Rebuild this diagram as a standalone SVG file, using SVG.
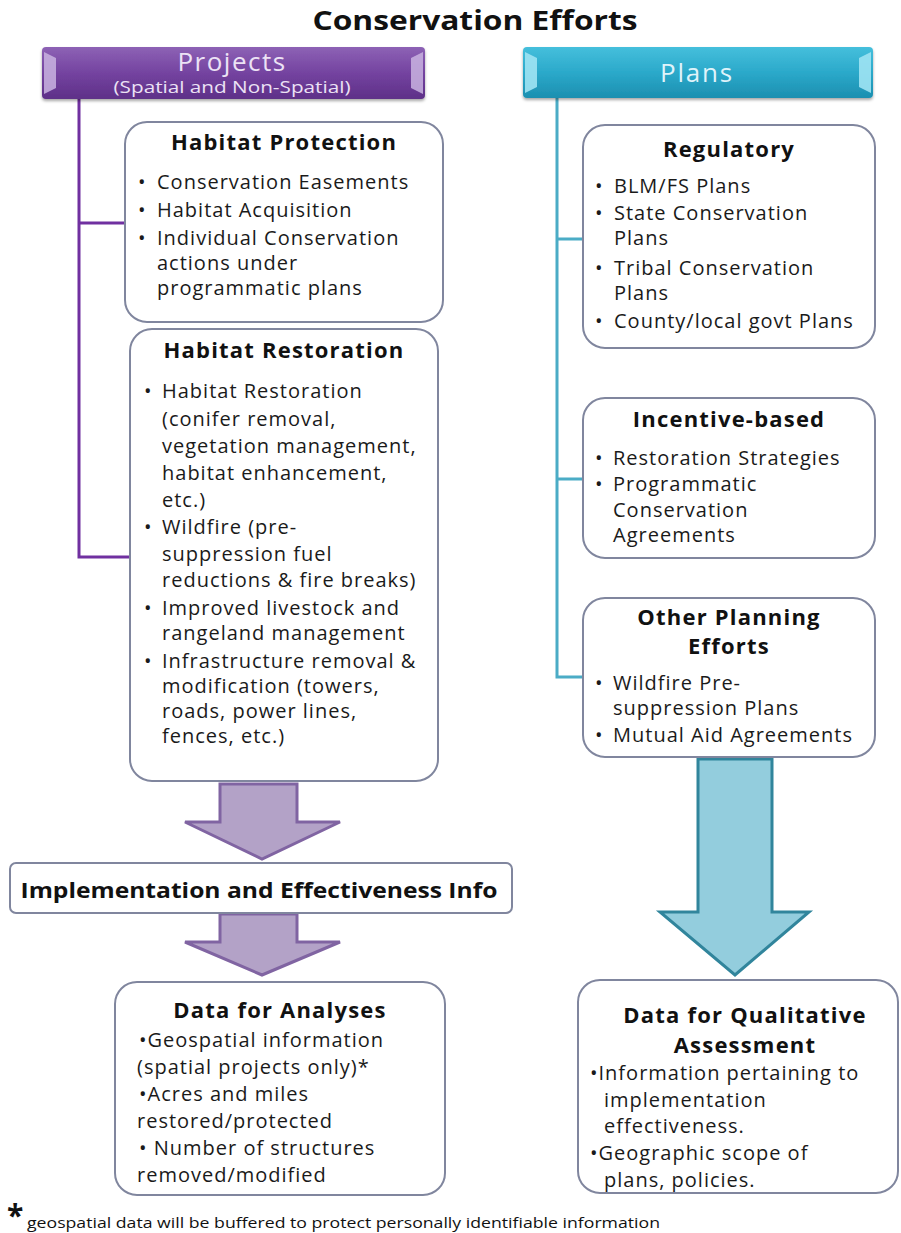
<svg xmlns="http://www.w3.org/2000/svg" width="901" height="1233" viewBox="0 0 901 1233">
<defs>
<linearGradient id="gPurple" x1="0" y1="0" x2="0" y2="1">
<stop offset="0" stop-color="#8d62b5"/>
<stop offset="0.5" stop-color="#7443a0"/>
<stop offset="1" stop-color="#5e3088"/>
</linearGradient>
<linearGradient id="gCyan" x1="0" y1="0" x2="0" y2="1">
<stop offset="0" stop-color="#45bfdc"/>
<stop offset="0.5" stop-color="#2ba9ca"/>
<stop offset="1" stop-color="#1c8fb0"/>
</linearGradient>
<filter id="sh" x="-5%" y="-5%" width="110%" height="115%">
<feDropShadow dx="0" dy="2" stdDeviation="1.5" flood-color="#000" flood-opacity="0.35"/>
</filter>
</defs>
<style>
.box{fill:#ffffff;stroke:#80869e;stroke-width:2}
.ttl{font-family:"Open Sans","Liberation Sans",sans-serif;font-weight:bold;font-size:22px;letter-spacing:1.2px;fill:#111;text-anchor:middle}
.b{font-family:"Open Sans","Liberation Sans",sans-serif;font-size:20px;letter-spacing:1px;fill:#1a1a1a}
.pline{fill:none;stroke:#7030a0;stroke-width:3}
.cline{fill:none;stroke:#4bacc6;stroke-width:3}
.parrow{fill:#b3a2c7;stroke:#8064a2;stroke-width:3;stroke-linejoin:miter}
.carrow{fill:#93cddd;stroke:#31859c;stroke-width:3;stroke-linejoin:miter}
</style>
<rect width="901" height="1233" fill="#ffffff"/>

<g id="title">
<text x="475" y="30" font-family="Open Sans, Liberation Sans, sans-serif" font-weight="bold" font-size="26" text-anchor="middle" textLength="325" lengthAdjust="spacingAndGlyphs" fill="#111">Conservation Efforts</text>
</g>

<g id="connectors">
<path class="pline" d="M79,98 V557 H131 M79,223 H126"/>
<path class="cline" d="M557,98 V677 H584 M557,239 H584 M557,479 H584"/>
<polygon class="parrow" points="220,784 297,784 297,822 340,822 262,859 185,822 220,822"/>
<polygon class="parrow" points="220,914 297,914 297,942 340,942 262,975 185,942 220,942"/>
<polygon class="carrow" points="698,759 772,759 772,912 809,912 735,975 660,912 698,912"/>
</g>

<g id="projects">
<rect x="42" y="47" width="383" height="52" rx="4" fill="url(#gPurple)" filter="url(#sh)"/>
<path d="M44,52 L56,58 L56,88 L44,94 Z" fill="#c9b3e0" opacity="0.85"/>
<path d="M423,52 L411,58 L411,88 L423,94 Z" fill="#c9b3e0" opacity="0.85"/>
<text x="232" y="71" font-family="Open Sans, Liberation Sans, sans-serif" font-size="26" letter-spacing="1.5" text-anchor="middle" fill="#ece2f5">Projects</text>
<text x="232" y="93" font-family="Open Sans, Liberation Sans, sans-serif" font-size="16" text-anchor="middle" textLength="237" lengthAdjust="spacingAndGlyphs" fill="#ece2f5">(Spatial and Non-Spatial)</text>
</g>

<g id="plans">
<rect x="523" y="47" width="350" height="51" rx="4" fill="url(#gCyan)" filter="url(#sh)"/>
<path d="M525,52 L537,58 L537,87 L525,93 Z" fill="#9fe3f3" opacity="0.9"/>
<path d="M871,52 L859,58 L859,87 L871,93 Z" fill="#9fe3f3" opacity="0.9"/>
<text x="697" y="82" font-family="Open Sans, Liberation Sans, sans-serif" font-size="26" letter-spacing="1.8" text-anchor="middle" fill="#dff3fa">Plans</text>
</g>

<g id="habitat-protection">
<rect class="box" x="125" y="122" width="318" height="200" rx="22"/>
<text class="ttl" x="284" y="150">Habitat Protection</text>
<text class="b" x="138" y="189">•</text><text class="b" x="157" y="189">Conservation Easements</text>
<text class="b" x="138" y="217">•</text><text class="b" x="157" y="217">Habitat Acquisition</text>
<text class="b" x="138" y="245">•</text><text class="b" x="157" y="245">Individual Conservation</text>
<text class="b" x="157" y="270">actions under</text>
<text class="b" x="157" y="295">programmatic plans</text>
</g>

<g id="habitat-restoration">
<rect class="box" x="130" y="329" width="308" height="452" rx="22"/>
<text class="ttl" x="284" y="358">Habitat Restoration</text>
<text class="b" x="144" y="398">•</text><text class="b" x="162" y="398">Habitat Restoration</text>
<text class="b" x="162" y="426">(conifer removal,</text>
<text class="b" x="162" y="453">vegetation management,</text>
<text class="b" x="162" y="480">habitat enhancement,</text>
<text class="b" x="162" y="507">etc.)</text>
<text class="b" x="144" y="534">•</text><text class="b" x="162" y="534">Wildfire (pre-</text>
<text class="b" x="162" y="561">suppression fuel</text>
<text class="b" x="162" y="587">reductions &amp; fire breaks)</text>
<text class="b" x="144" y="615">•</text><text class="b" x="162" y="615">Improved  livestock and</text>
<text class="b" x="162" y="640">rangeland management</text>
<text class="b" x="144" y="668">•</text><text class="b" x="162" y="668">Infrastructure removal &amp;</text>
<text class="b" x="162" y="693">modification (towers,</text>
<text class="b" x="162" y="718">roads, power lines,</text>
<text class="b" x="162" y="743">fences, etc.)</text>
</g>

<g id="regulatory">
<rect class="box" x="583" y="125" width="292" height="223" rx="22"/>
<text class="ttl" x="729" y="157">Regulatory</text>
<text class="b" x="595" y="193">•</text><text class="b" x="614" y="193">BLM/FS Plans</text>
<text class="b" x="595" y="220">•</text><text class="b" x="614" y="220">State Conservation</text>
<text class="b" x="614" y="245">Plans</text>
<text class="b" x="595" y="275">•</text><text class="b" x="614" y="275">Tribal Conservation</text>
<text class="b" x="614" y="300">Plans</text>
<text class="b" x="595" y="328">•</text><text class="b" x="614" y="328">County/local govt Plans</text>
</g>

<g id="incentive-based">
<rect class="box" x="583" y="398" width="292" height="160" rx="22"/>
<text class="ttl" x="729" y="427">Incentive-based</text>
<text class="b" x="595" y="465">•</text><text class="b" x="613" y="465">Restoration Strategies</text>
<text class="b" x="595" y="491">•</text><text class="b" x="613" y="491">Programmatic</text>
<text class="b" x="613" y="517">Conservation</text>
<text class="b" x="613" y="542">Agreements</text>
</g>

<g id="other-planning">
<rect class="box" x="583" y="598" width="292" height="159" rx="22"/>
<text class="ttl" x="729" y="625">Other Planning</text>
<text class="ttl" x="729" y="654">Efforts</text>
<text class="b" x="595" y="690">•</text><text class="b" x="613" y="690">Wildfire Pre-</text>
<text class="b" x="613" y="715">suppression Plans</text>
<text class="b" x="595" y="742">•</text><text class="b" x="613" y="742">Mutual  Aid Agreements</text>
</g>

<g id="implementation">
<rect x="10" y="863" width="502" height="50" rx="6" fill="#ffffff" stroke="#80869e" stroke-width="2"/>
<text x="259" y="898" font-family="Open Sans, Liberation Sans, sans-serif" font-weight="bold" font-size="21" text-anchor="middle" textLength="477" lengthAdjust="spacingAndGlyphs" fill="#111">Implementation and Effectiveness Info</text>
</g>

<g id="data-analyses">
<rect class="box" x="115" y="982" width="330" height="213" rx="22"/>
<text class="ttl" x="280" y="1018">Data for Analyses</text>
<text class="b" x="139" y="1047">•Geospatial information</text>
<text class="b" x="137" y="1074">(spatial projects only)*</text>
<text class="b" x="139" y="1101">•Acres and miles</text>
<text class="b" x="137" y="1128">restored/protected</text>
<text class="b" x="139" y="1155">• Number  of structures</text>
<text class="b" x="137" y="1182">removed/modified</text>
</g>

<g id="data-qualitative">
<rect class="box" x="578" y="980" width="320" height="213" rx="22"/>
<text class="ttl" x="745" y="1023">Data for Qualitative</text>
<text class="ttl" x="745" y="1053">Assessment</text>
<text class="b" x="590" y="1080">•Information  pertaining to</text>
<text class="b" x="604" y="1107">implementation</text>
<text class="b" x="604" y="1133">effectiveness.</text>
<text class="b" x="590" y="1160">•Geographic scope of</text>
<text class="b" x="604" y="1187">plans, policies.</text>
</g>

<g id="footnote">
<text x="7" y="1226" font-family="Open Sans, Liberation Sans, sans-serif" font-weight="bold" font-size="30" fill="#111">*</text>
<text x="27" y="1228" font-family="Open Sans, Liberation Sans, sans-serif" font-size="15" textLength="633" lengthAdjust="spacingAndGlyphs" fill="#111">geospatial data will be buffered to protect personally identifiable information</text>
</g>
</svg>
